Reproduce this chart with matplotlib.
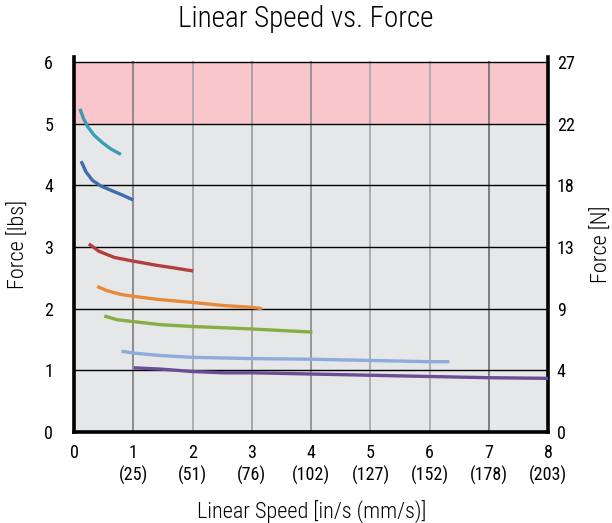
import matplotlib
matplotlib.use('Agg')
import matplotlib.pyplot as plt
from matplotlib import font_manager

# pick a narrow face if one is installed
installed = {f.name for f in font_manager.fontManager.ttflist}
family = 'DejaVu Sans'
for cand in ['Roboto Condensed', 'Liberation Sans Narrow', 'Roboto']:
    if cand in installed:
        family = cand
        break
plt.rcParams['font.family'] = [family, 'DejaVu Sans']

# speed [in/s] and force [lbs] for each curve
cyan_x = [0.10, 0.16, 0.23, 0.34, 0.48, 0.62, 0.79]
cyan_y = [5.24, 5.08, 4.95, 4.81, 4.69, 4.59, 4.50]
blue_x = [0.12, 0.20, 0.31, 0.45, 0.62, 0.82, 1.00]
blue_y = [4.39, 4.22, 4.08, 3.99, 3.92, 3.84, 3.76]
red_x = [0.25, 0.42, 0.68, 1.00, 1.41, 1.69, 2.01]
red_y = [3.05, 2.93, 2.83, 2.77, 2.70, 2.66, 2.61]
orange_x = [0.39, 0.56, 0.79, 1.00, 1.41, 2.00, 2.53, 3.01, 3.17]
orange_y = [2.36, 2.29, 2.23, 2.20, 2.15, 2.10, 2.05, 2.02, 2.00]
green_x = [0.51, 0.73, 1.00, 1.46, 2.00, 2.53, 3.01, 3.50, 4.02]
green_y = [1.88, 1.82, 1.79, 1.74, 1.71, 1.69, 1.67, 1.645, 1.62]
lblue_x = [0.80, 1.00, 1.46, 2.00, 2.53, 3.01, 4.00, 5.00, 6.00, 6.33]
lblue_y = [1.31, 1.28, 1.24, 1.21, 1.20, 1.19, 1.18, 1.16, 1.14, 1.14]
purple_x = [1.01, 1.46, 2.00, 2.53, 3.01, 4.00, 5.00, 6.00, 7.00, 8.00]
purple_y = [1.04, 1.02, 0.98, 0.96, 0.96, 0.94, 0.92, 0.90, 0.88, 0.87]

x_ticks = [0, 1, 2, 3, 4, 5, 6, 7, 8]
x_labels = ['0', '1\n(25)', '2\n(51)', '3\n(76)', '4\n(102)', '5\n(127)',
            '6\n(152)', '7\n(178)', '8\n(203)']
y_ticks = [0, 1, 2, 3, 4, 5, 6]
n_labels = ['0', '4', '9', '13', '18', '22', '27']

curves = [
    (cyan_x, cyan_y, '#3a9db6'),
    (blue_x, blue_y, '#3d6db0'),
    (red_x, red_y, '#b23f3e'),
    (orange_x, orange_y, '#e8893a'),
    (green_x, green_y, '#88ad45'),
    (lblue_x, lblue_y, '#8fabd9'),
    (purple_x, purple_y, '#6b4d94'),
]
grid_greys = ['#858585', '#aaaaaa', '#a0a0a0', '#909090', '#aaaaaa', '#aaaaaa', '#777777']

fig = plt.figure(figsize=(6.12, 5.23), dpi=100)
ax = fig.add_axes([0.121, 0.174, 0.775, 0.717])
ax.set_facecolor('white')
ax.set_xlim(0, 8)
ax.set_ylim(0, 6.08)

ax.axhspan(0, 5, color='#e6e7e9', zorder=0, lw=0)
ax.axhspan(5, 6, color='#f9c6cb', zorder=0, lw=0)
for xv, g in zip(x_ticks[1:-1], grid_greys):
    ax.axvline(xv, ymax=6 / 6.08, color=g, lw=1.3, zorder=1)
for yv in y_ticks[1:]:
    ax.axhline(yv, color='black', lw=1, zorder=1)

for xs, ys, c in curves:
    ax.plot(xs, ys, color=c, lw=2.4, solid_capstyle='butt', zorder=3)

ax.spines['top'].set_visible(False)
for s in ['left', 'right', 'bottom']:
    ax.spines[s].set_linewidth(2.6)

ax.set_xticks(x_ticks)
ax.set_xticklabels(x_labels, fontsize=13)
ax.set_yticks(y_ticks)
ax.set_yticklabels([str(v) for v in y_ticks], fontsize=13)
ax.tick_params(axis='x', length=0, pad=9)
ax.tick_params(axis='y', length=0, pad=15)

ax2 = ax.twinx()
ax2.set_ylim(ax.get_ylim())
ax2.set_yticks(y_ticks)
ax2.set_yticklabels(n_labels, fontsize=13)
ax2.tick_params(axis='y', length=0, pad=6)
for s in ax2.spines.values():
    s.set_visible(False)

ax.set_xlabel('Linear Speed [in/s (mm/s)]', fontsize=16, fontweight='light', labelpad=12)
ax.set_ylabel('Force [lbs]', fontsize=16, fontweight='light', labelpad=10)
ax2.set_ylabel('Force [N]', fontsize=16, fontweight='light', labelpad=12)
fig.suptitle('Linear Speed vs. Force', fontsize=21, fontweight='light', y=0.99)

fig.savefig('out.png', dpi=100)
